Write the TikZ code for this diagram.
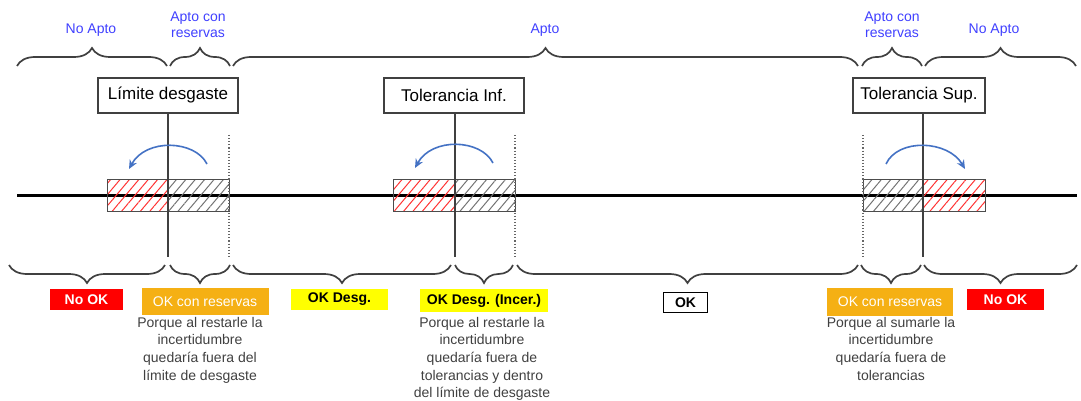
\documentclass[tikz,border=0pt]{standalone}
\usepackage{fontspec}
\setmainfont{Liberation Sans}
\usetikzlibrary{decorations.pathreplacing,patterns.meta,arrows.meta}
\definecolor{aptoblue}{RGB}{64,64,255}
\definecolor{arcblue}{RGB}{68,114,196}
\definecolor{okorange}{RGB}{245,176,20}
\definecolor{nokred}{RGB}{255,0,0}
\definecolor{desgyellow}{RGB}{255,255,0}
\definecolor{desctext}{RGB}{64,64,64}
\begin{document}
\begin{tikzpicture}[x=1pt,y=-1pt,
  topbrace/.style={decorate,decoration={brace,amplitude=18pt},line width=1.7pt,black!75},
  botbrace/.style={decorate,decoration={brace,amplitude=18pt,mirror},line width=1.7pt,black!75},
  aptolabel/.style={text=aptoblue,font=\fontsize{14}{16}\selectfont,align=center,inner sep=0pt},
  limbox/.style={draw=black!75,line width=1.2pt,fill=white,minimum height=35pt,font=\fontsize{17}{20}\selectfont,inner sep=0pt},
  solidline/.style={draw=black!75,line width=1.1pt},
  dotline/.style={draw=black!60,line width=1.1pt,dotted},
  redhatch/.style={pattern={Lines[angle=50,distance=7.2pt,line width=1pt]},pattern color=red!80},
  grayhatch/.style={pattern={Lines[angle=50,distance=7.2pt,line width=1pt]},pattern color=black!55},
  rectborder/.style={draw=black!70,line width=1pt},
  arcarrow/.style={draw=arcblue,line width=1.6pt,-{Stealth[length=9pt,width=8pt]}},
  statusbox/.style={inner sep=0pt,font=\fontsize{14}{16}\selectfont},
  desc/.style={text=desctext,align=center,inner sep=0pt,anchor=north,font=\fontsize{14}{17.6}\selectfont}
]
\useasboundingbox (0,0) rectangle (1081,401);

% top braces
\coordinate (tb1a) at (17,66);  \coordinate (tb1b) at (167,66);
\coordinate (tb2a) at (170,66); \coordinate (tb2b) at (230,66);
\coordinate (tb3a) at (233,66); \coordinate (tb3b) at (858,66);
\coordinate (tb4a) at (862,66); \coordinate (tb4b) at (922,66);
\coordinate (tb5a) at (925,66); \coordinate (tb5b) at (1076,66);
\draw[topbrace] (tb1a) -- (tb1b);
\draw[topbrace] (tb2a) -- (tb2b);
\draw[topbrace] (tb3a) -- (tb3b);
\draw[topbrace] (tb4a) -- (tb4b);
\draw[topbrace] (tb5a) -- (tb5b);

\node[aptolabel] (na1) at (91,30) {No Apto};
\node[aptolabel] (ac1) at (198,25) {Apto con\\reservas};
\node[aptolabel] (ap) at (545,30) {Apto};
\node[aptolabel] (ac2) at (892,25) {Apto con\\reservas};
\node[aptolabel] (na2) at (994,30) {No Apto};

% main line
\coordinate (ml) at (17,195); \coordinate (mr) at (1077,195);
\draw[line width=3pt,black] (ml) -- (mr);

% hatched rectangles
\fill[redhatch] (107,179) rectangle (168,211);
\fill[grayhatch] (168,179) rectangle (229,211);
\draw[rectborder] (107,179) rectangle (229,211);
\fill[redhatch] (393,179) rectangle (455,211);
\fill[grayhatch] (455,179) rectangle (515,211);
\draw[rectborder] (393,179) rectangle (515,211);
\fill[grayhatch] (863,179) rectangle (923,211);
\fill[redhatch] (923,179) rectangle (985,211);
\draw[rectborder] (863,179) rectangle (985,211);

% limit boxes
\node[limbox,minimum width=140pt] (lim) at (168,95.5) {Límite desgaste};
\node[limbox,minimum width=140pt] (tinf) at (454,95.5) {Tolerancia Inf.};
\node[limbox,minimum width=132pt] (tsup) at (919,95.5) {Tolerancia Sup.};

% vertical lines
\coordinate (v1) at (168,257);
\coordinate (d1t) at (229,135); \coordinate (d1b) at (229,257);
\coordinate (v2) at (455,257);
\coordinate (d2t) at (515,135); \coordinate (d2b) at (515,257);
\coordinate (v3) at (923,257);
\coordinate (d3t) at (863,135); \coordinate (d3b) at (863,257);
\draw[solidline] (lim.south -| v1) -- (v1);
\draw[dotline] (d1t) -- (d1b);
\draw[solidline] (tinf.south -| v2) -- (v2);
\draw[dotline] (d2t) -- (d2b);
\draw[solidline] (tsup.south -| v3) -- (v3);
\draw[dotline] (d3t) -- (d3b);

% arcs
\coordinate (a1s) at (207,164); \coordinate (a1e) at (129,169);
\coordinate (a2s) at (493,163); \coordinate (a2e) at (415,168);
\coordinate (a3s) at (886,164); \coordinate (a3e) at (965,169);
\draw[arcarrow] (a1s) .. controls (195,140) and (146,138) .. (a1e);
\draw[arcarrow] (a2s) .. controls (481,139) and (432,137) .. (a2e);
\draw[arcarrow] (a3s) .. controls (898,138) and (948,140) .. (a3e);

% bottom braces
\coordinate (bb1a) at (9,265);   \coordinate (bb1b) at (165,265);
\coordinate (bb2a) at (170,265); \coordinate (bb2b) at (230,265);
\coordinate (bb3a) at (233,265); \coordinate (bb3b) at (451,265);
\coordinate (bb4a) at (455,265); \coordinate (bb4b) at (513,265);
\coordinate (bb5a) at (517,265); \coordinate (bb5b) at (858,265);
\coordinate (bb6a) at (861,265); \coordinate (bb6b) at (921,265);
\coordinate (bb7a) at (924,265); \coordinate (bb7b) at (1077,265);
\draw[botbrace] (bb1a) -- (bb1b);
\draw[botbrace] (bb2a) -- (bb2b);
\draw[botbrace] (bb3a) -- (bb3b);
\draw[botbrace] (bb4a) -- (bb4b);
\draw[botbrace] (bb5a) -- (bb5b);
\draw[botbrace] (bb6a) -- (bb6b);
\draw[botbrace] (bb7a) -- (bb7b);

% status boxes
\node[statusbox,fill=nokred,text=white,font=\fontsize{14}{16}\selectfont\bfseries,minimum width=73pt,minimum height=21pt] (nok1) at (86.5,299.5) {No OK};
\node[statusbox,fill=okorange,text=white,minimum width=127pt,minimum height=27pt] (okr1) at (205,301.5) {OK con reservas};
\node[statusbox,fill=desgyellow,text=black,font=\fontsize{14}{16}\selectfont\bfseries,minimum width=97pt,minimum height=21pt] (okd) at (339.5,299.5) {OK Desg.};
\node[statusbox,fill=desgyellow,text=black,font=\fontsize{14}{16}\selectfont\bfseries,minimum width=128pt,minimum height=23pt] (okdi) at (484,300.5) {OK Desg. (Incer.)};
\node[statusbox,draw=black,line width=1.5pt,fill=white,text=black,font=\fontsize{14}{16}\selectfont\bfseries,minimum width=44pt,minimum height=20pt] (ok) at (685.5,302.5) {OK};
\node[statusbox,fill=okorange,text=white,minimum width=126pt,minimum height=28pt] (okr2) at (890,302) {OK con reservas};
\node[statusbox,fill=nokred,text=white,font=\fontsize{14}{16}\selectfont\bfseries,minimum width=77pt,minimum height=21pt] (nok2) at (1005.5,299.5) {No OK};

% descriptions
\node[desc] (d1) at (200,317) {Porque al restarle la\\incertidumbre\\quedaría fuera del\\límite de desgaste};
\node[desc] (d2) at (482,317) {Porque al restarle la\\incertidumbre\\quedaría fuera de\\tolerancias y dentro\\del límite de desgaste};
\node[desc] (d3) at (891,317) {Porque al sumarle la\\incertidumbre\\quedaría fuera de\\tolerancias};
\end{tikzpicture}
\end{document}
